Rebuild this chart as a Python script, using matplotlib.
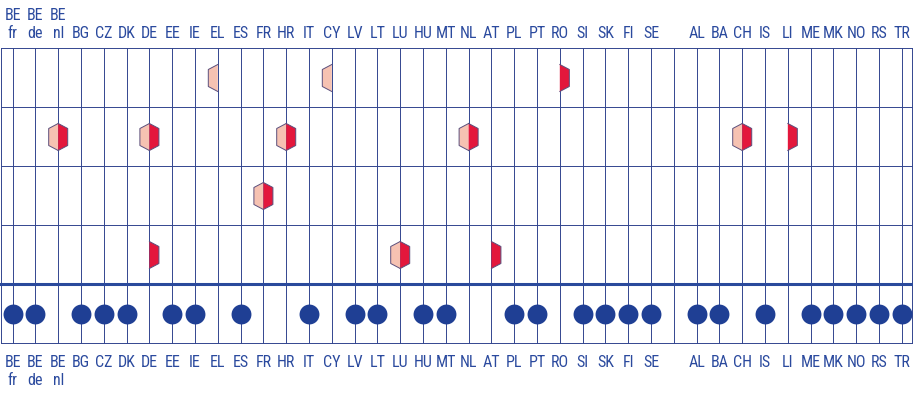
import matplotlib
matplotlib.use('Agg')
import matplotlib.pyplot as plt
from matplotlib import font_manager

# column labels (empty string = gap column)
countries = ['BE\nfr', 'BE\nde', 'BE\nnl', 'BG', 'CZ', 'DK', 'DE', 'EE', 'IE', 'EL',
             'ES', 'FR', 'HR', 'IT', 'CY', 'LV', 'LT', 'LU', 'HU', 'MT',
             'NL', 'AT', 'PL', 'PT', 'RO', 'SI', 'SK', 'FI', 'SE', '',
             'AL', 'BA', 'CH', 'IS', 'LI', 'ME', 'MK', 'NO', 'RS', 'TR']

# hexagon marks: column, row (1..4), left half shown, right half shown
hex_country = ['EL', 'CY', 'RO', 'BE\nnl', 'DE', 'HR', 'NL', 'CH', 'LI', 'FR', 'DE', 'LU', 'AT']
hex_row = [1, 1, 1, 2, 2, 2, 2, 2, 2, 3, 4, 4, 4]
hex_left = [1, 1, 0, 1, 1, 1, 1, 1, 0, 1, 0, 1, 0]
hex_right = [0, 0, 1, 1, 1, 1, 1, 1, 1, 1, 1, 1, 1]

# columns with a dot in the bottom band
dot_countries = ['BE\nfr', 'BE\nde', 'BG', 'CZ', 'DK', 'EE', 'IE', 'ES', 'IT', 'LV',
                 'LT', 'HU', 'MT', 'PL', 'PT', 'SI', 'SK', 'FI', 'SE',
                 'AL', 'BA', 'IS', 'ME', 'MK', 'NO', 'RS', 'TR']

navy = '#33468f'
text_col = '#2b4a9e'
light = '#f6c2b2'
red = '#e3173c'
edge = '#5b4f7c'

names = {f.name for f in font_manager.fontManager.ttflist}
font = 'Roboto'
for cand in ['Roboto Condensed', 'Liberation Sans Narrow', 'Open Sans Condensed']:
    if cand in names:
        font = cand
        break

fig = plt.figure(figsize=(9.13, 3.94), dpi=100)
ax = fig.add_axes([0, 0, 1, 1])
ax.set_xlim(-0.5526, 39.49)
ax.set_ylim(5.856, -0.822)
ax.axis('off')

xpos = {c: i for i, c in enumerate(countries)}
n = len(countries)

# grid
for i in range(n):
    ax.plot([i, i], [0, 5], color=navy, lw=0.7, zorder=1)
ax.plot([-0.53, -0.53], [0, 5], color=navy, lw=0.7, zorder=1)
ax.plot([39.45, 39.45], [0, 5], color=navy, lw=0.7, zorder=1)
for y in [0, 1, 2, 3, 5]:
    ax.plot([-0.53, 39.45], [y, y], color=navy, lw=0.7, zorder=1)
ax.plot([-0.6, 39.6], [4, 4], color='#2a4a9c', lw=2.2, zorder=2)

# hexagon halves
w, h, s = 0.417, 0.229, 0.144
for c, r, l, rt in zip(hex_country, hex_row, hex_left, hex_right):
    x0 = xpos[c]
    y0 = r - 0.5
    for show, sign, col in [(l, -1, light), (rt, 1, red)]:
        if not show:
            continue
        xs = [x0, x0 + sign * w, x0 + sign * w, x0]
        ys = [y0 - h, y0 - s, y0 + s, y0 + h]
        ax.fill(xs, ys, color=col, lw=0, zorder=3)
        ax.plot(xs, ys, color=edge, lw=0.7, zorder=4)

# dots
ax.scatter([xpos[c] for c in dot_countries], [4.5] * len(dot_countries),
           s=205, color='#1f3f94', lw=0, zorder=3)

# labels
for c in countries:
    ax.text(xpos[c], -0.17, c, ha='center', va='baseline', color=text_col,
            fontsize=11.5, family=font, linespacing=1.25)
    ax.text(xpos[c], 5.195, c, ha='center', va='top', color=text_col,
            fontsize=11.5, family=font, linespacing=1.25)

fig.savefig('out.png', dpi=100)
